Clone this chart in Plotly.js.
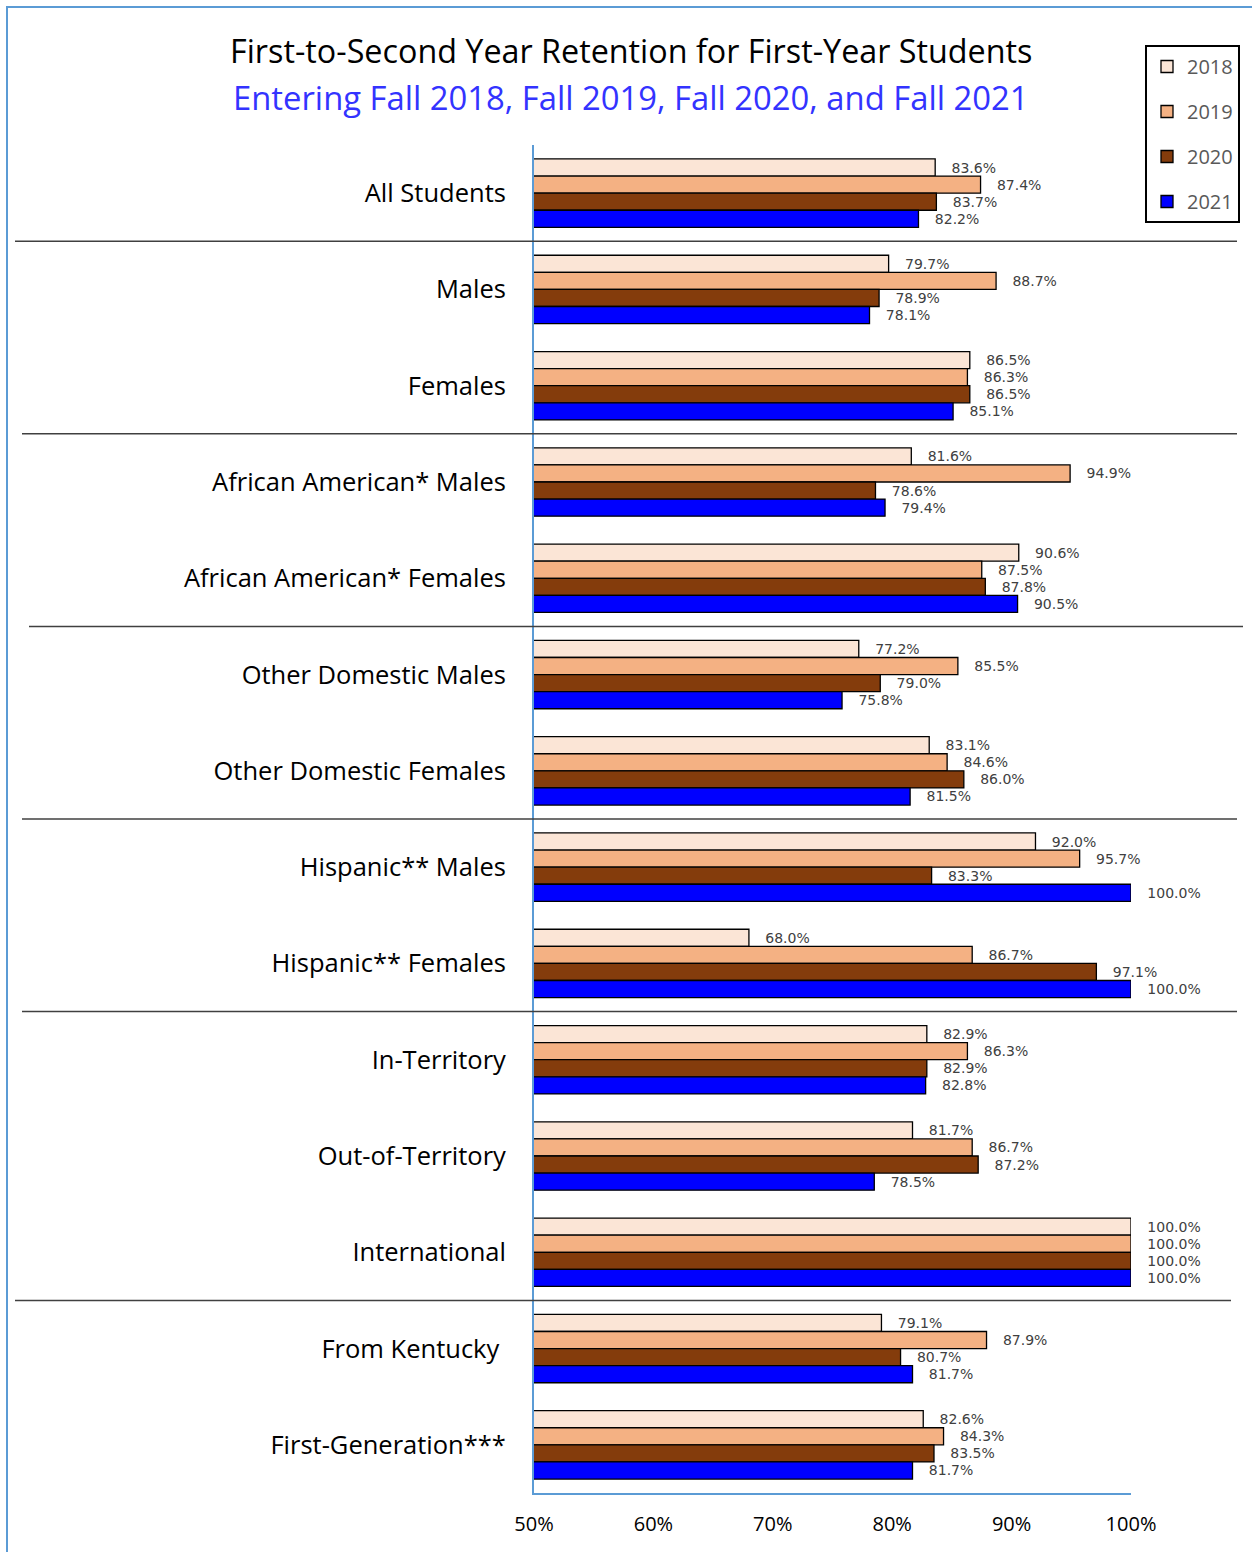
<!DOCTYPE html>
<html>
<head>
<meta charset="utf-8">
<script src="https://cdn.plot.ly/plotly-3.0.1.min.js"></script>
<style>html,body{margin:0;padding:0;background:#fff;}#chart{width:1252px;height:1552px;}</style>
</head>
<body>
<div id="chart"></div>
<script>
const categories = ["All Students","Males","Females","African American* Males","African American* Females","Other Domestic Males","Other Domestic Females","Hispanic** Males","Hispanic** Females","In-Territory","Out-of-Territory","International","From Kentucky ","First-Generation***"];
const years = ["2018","2019","2020","2021"];
const v2018 = [83.6,79.7,86.5,81.6,90.6,77.2,83.1,92.0,68.0,82.9,81.7,100.0,79.1,82.6];
const v2019 = [87.4,88.7,86.3,94.9,87.5,85.5,84.6,95.7,86.7,86.3,86.7,100.0,87.9,84.3];
const v2020 = [83.7,78.9,86.5,78.6,87.8,79.0,86.0,83.3,97.1,82.9,87.2,100.0,80.7,83.5];
const v2021 = [82.2,78.1,85.1,79.4,90.5,75.8,81.5,100.0,100.0,82.8,78.5,100.0,81.7,81.7];
const xTicks = [50,60,70,80,90,100];
const separatorsAfter = [1,3,5,7,9,12]; // number of categories above each separator line
const colors = ["#FBE5D6","#F4B183","#843C0C","#0000FF"];
const series = [v2018,v2019,v2020,v2021];

const traces = series.map((vals,i)=>({
  type:'bar', orientation:'h', name:years[i], legendgroup:years[i],
  y:categories, x:vals,
  marker:{color:colors[i], line:{color:'#000', width:1.3}},
  text: vals.map(v=>'\u00a0\u00a0\u00a0'+v.toFixed(1)+'%'),
  textposition:'outside', textfont:{family:'DejaVu Sans', size:14, color:'#404040'},
  constraintext:'none', cliponaxis:false, hoverinfo:'x+name'
}));

const W=1252, H=1552;
const L=534, R=1131, T=145, B=1493;
const px = p => (p-L)/(R-L);
const py = p => (B-p)/(B-T);
const sepX = [[15,1237],[22,1237],[29,1243],[22,1237],[22,1237],[15,1231]];
const shapes = separatorsAfter.map((n,i)=>({
  type:'line', xref:'paper', yref:'paper',
  x0:px(sepX[i][0]), x1:px(sepX[i][1]), y0:1-n/categories.length, y1:1-n/categories.length,
  line:{color:'#404040', width:1.5}
}));
shapes.push({type:'line', xref:'paper', yref:'paper', x0:px(7), x1:px(7), y0:py(6), y1:py(1560), line:{color:'#5B9BD5', width:2}});
shapes.push({type:'line', xref:'paper', yref:'paper', x0:px(6), x1:px(1260), y0:py(7), y1:py(7), line:{color:'#5B9BD5', width:2}});

const layout = {
  width:W, height:H,
  margin:{l:L, r:W-R, t:T, b:H-B, pad:0},
  paper_bgcolor:'#fff', plot_bgcolor:'#fff',
  barmode:'group', bargap:0.29, bargroupgap:0,
  font:{family:'Open Sans', color:'#000'},
  showlegend:true,
  legend:{xref:'container', yref:'container', x:1145/W, y:1-45/H, xanchor:'left', yanchor:'top', bordercolor:'#000', borderwidth:2,
    font:{family:'Open Sans', size:20, color:'#595959'}, traceorder:'grouped', tracegroupgap:16, bgcolor:'#fff', itemwidth:30},
  xaxis:{range:[50,100], tickvals:xTicks, ticktext:xTicks.map(t=>t+'%'), showgrid:false, zeroline:false,
    showline:true, linecolor:'#5B9BD5', linewidth:2, ticks:'', ticklabelstandoff:12,
    tickfont:{family:'Open Sans', size:20, color:'#000'}, fixedrange:true, automargin:false},
  yaxis:{type:'category', autorange:'reversed', showgrid:false, zeroline:false,
    showline:true, linecolor:'#5B9BD5', linewidth:2, ticks:'', ticklabelstandoff:21,
    tickfont:{family:'Open Sans', size:25.5, color:'#000'}, fixedrange:true, automargin:false},
  shapes:shapes,
  annotations:[
    {xref:'paper', yref:'paper', x:px(631), y:py(50), xanchor:'center', yanchor:'middle', showarrow:false,
     text:'First-to-Second Year Retention for First-Year Students', font:{family:'Open Sans', size:32.3, color:'#000'}},
    {xref:'paper', yref:'paper', x:px(630), y:py(97), xanchor:'center', yanchor:'middle', showarrow:false,
     text:'Entering Fall 2018, Fall 2019, Fall 2020, and Fall 2021', font:{family:'Open Sans', size:32.8, color:'#3333FF'}}
  ]
};
Plotly.newPlot('chart', traces, layout, {displayModeBar:false, staticPlot:true});
</script>
</body>
</html>
